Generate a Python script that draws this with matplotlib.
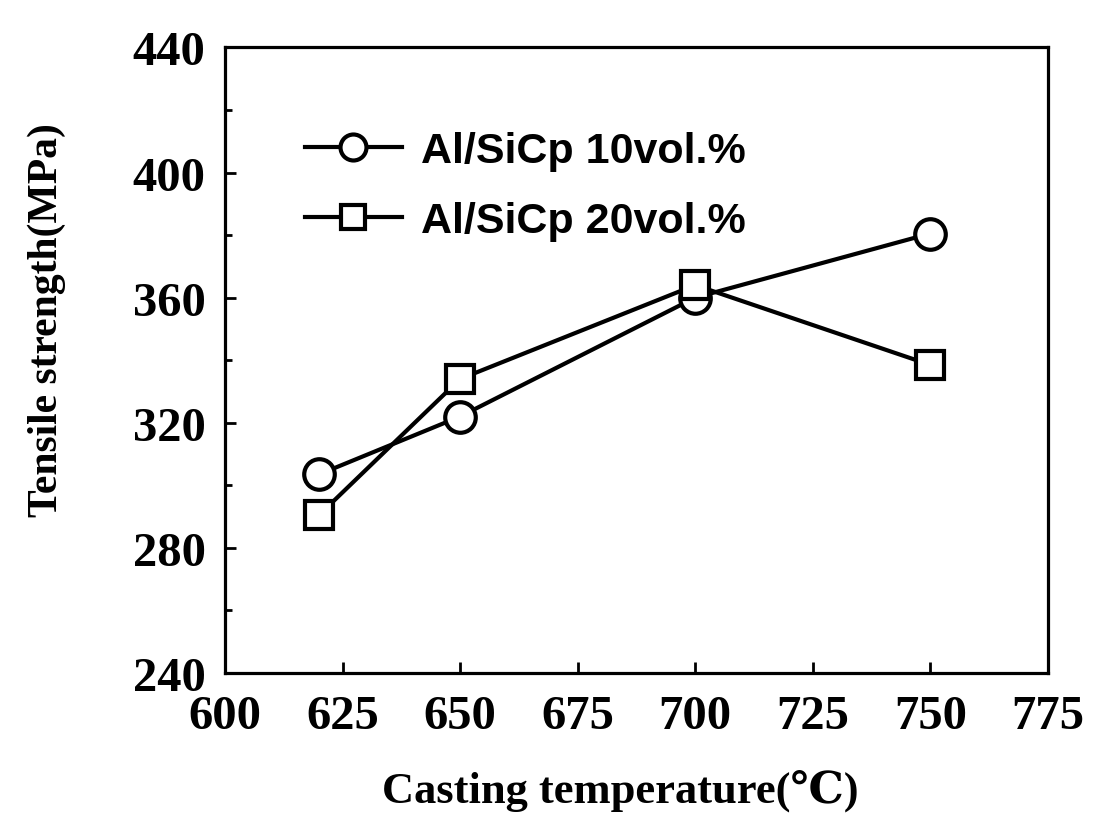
import matplotlib
matplotlib.use("Agg")
import matplotlib.pyplot as plt
from matplotlib.ticker import MultipleLocator

# data
temps = [620, 650, 700, 750]
ts_10vol = [303.5, 322, 360, 380.5]
ts_20vol = [290.5, 334, 364, 338.5]

x_ticks = [600, 625, 650, 675, 700, 725, 750, 775]
y_ticks = [240, 280, 320, 360, 400, 440]

serif = ['Liberation Serif', 'DejaVu Serif']
sans = ['Liberation Sans', 'DejaVu Sans']

fig = plt.figure(figsize=(11.03, 8.2), dpi=100)
ax = fig.add_axes([0.204, 0.178, 0.746, 0.763])

ax.plot(temps, ts_10vol, color='black', lw=3, marker='o', ms=22, mew=3,
        mfc='white', mec='black', label='Al/SiCp 10vol.%')
ax.plot(temps, ts_20vol, color='black', lw=3, marker='s', ms=20, mew=3,
        mfc='white', mec='black', label='Al/SiCp 20vol.%')

ax.set_xlim(600, 775)
ax.set_ylim(240, 440)
ax.set_xticks(x_ticks)
ax.set_yticks(y_ticks)
ax.yaxis.set_minor_locator(MultipleLocator(20))

for s in ax.spines.values():
    s.set_linewidth(2.3)

ax.tick_params(axis='both', which='major', direction='in', length=8, width=2,
               labelsize=35)
ax.tick_params(axis='x', which='major', pad=15)
ax.tick_params(axis='y', which='major', pad=14)
ax.tick_params(axis='y', which='minor', direction='in', length=5, width=2)
ax.tick_params(top=False, right=False, which='both')
for lbl in ax.get_xticklabels() + ax.get_yticklabels():
    lbl.set_family(serif)
    lbl.set_fontweight('bold')

ax.set_xlabel('Casting temperature(\u2103)', family=serif, fontweight='bold',
              fontsize=32, va='center')
ax.xaxis.set_label_coords(0.48, -0.187)
ax.set_ylabel('Tensile strength(MPa)', family=serif, fontweight='bold',
              fontsize=30, va='center')
ax.yaxis.set_label_coords(-0.217, 0.565)

leg = ax.legend(loc='center left', bbox_to_anchor=(0.097, 0.779), frameon=False,
                prop={'family': sans, 'weight': 'bold', 'size': 31},
                borderpad=0, borderaxespad=0, handlelength=2.25,
                handletextpad=0.45, labelspacing=0.7, markerscale=0.85)

fig.savefig('out.png', dpi=100)
